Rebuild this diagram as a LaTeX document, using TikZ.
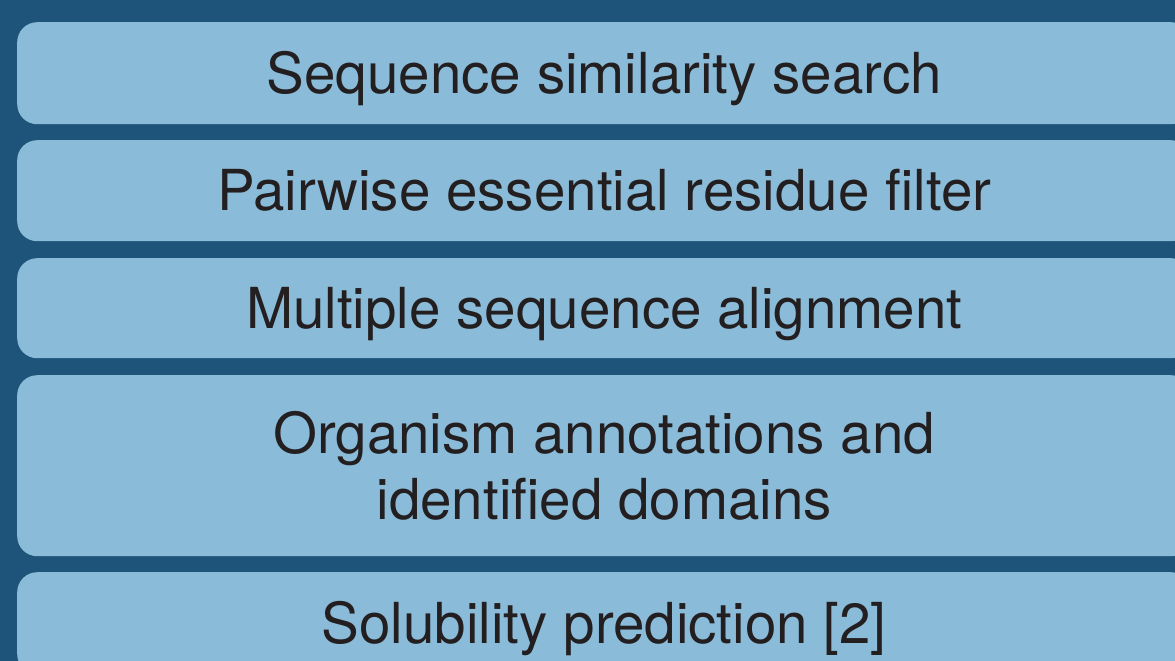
\documentclass[tikz,border=0pt]{standalone}
\usepackage{fontspec}
\setmainfont{TeX Gyre Heros}
\definecolor{bgblue}{HTML}{1E5479}
\definecolor{boxblue}{HTML}{8ABBD8}
\definecolor{txt}{HTML}{231F20}
\begin{document}
\begin{tikzpicture}[
  stage/.style={fill=boxblue, draw=none, rounded corners=20pt, inner sep=0pt,
    minimum width=1174pt, anchor=north west, align=center, text=txt,
    font=\fontsize{56.5}{65.5}\selectfont},
  oneline/.style={text height=40.5pt, text depth=0pt}
]
\useasboundingbox (0,0) rectangle (1175pt,-661pt);
\clip (0,0) rectangle (1175pt,-661pt);
\fill[bgblue] (0,0) rectangle (1175pt,-661pt);
\node[stage, oneline, minimum height=102pt] (s1) at (17pt,-22pt) {Sequence similarity search};
\node[stage, oneline, minimum height=101pt] (s2) at (17pt,-140pt) {Pairwise essential residue filter};
\node[stage, oneline, minimum height=100pt] (s3) at (17pt,-258pt) {Multiple sequence alignment};
\node[stage, minimum height=181pt] (s4) at (17pt,-375pt) {Organism annotations and\\[1pt]identified domains};
\node[stage, oneline, minimum height=102pt] (s5) at (17pt,-572pt) {Solubility prediction [2]};
\end{tikzpicture}
\end{document}
